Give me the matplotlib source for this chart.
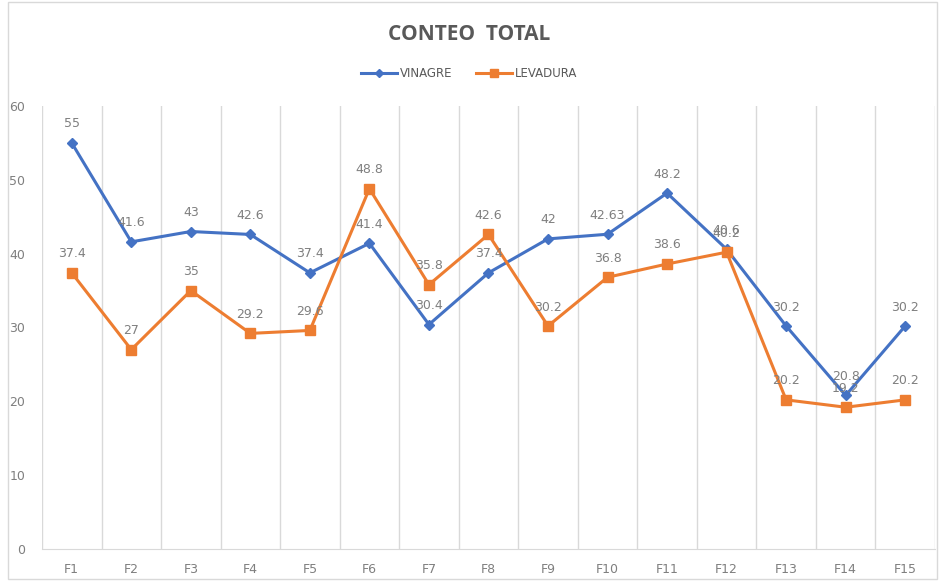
import matplotlib.pyplot as plt
from matplotlib.patches import Rectangle

categories = ["F1", "F2", "F3", "F4", "F5", "F6", "F7", "F8", "F9", "F10",
              "F11", "F12", "F13", "F14", "F15"]
vinagre = [55, 41.6, 43, 42.6, 37.4, 41.4, 30.4, 37.4, 42, 42.63,
           48.2, 40.6, 30.2, 20.8, 30.2]
levadura = [37.4, 27, 35, 29.2, 29.6, 48.8, 35.8, 42.6, 30.2, 36.8,
            38.6, 40.2, 20.2, 19.2, 20.2]
vinagre_labels = ["55", "41.6", "43", "42.6", "37.4", "41.4", "30.4", "37.4", "42", "42.63",
                  "48.2", "40.6", "30.2", "20.8", "30.2"]
levadura_labels = ["37.4", "27", "35", "29.2", "29.6", "48.8", "35.8", "42.6", "30.2", "36.8",
                   "38.6", "40.2", "20.2", "19.2", "20.2"]

blue = "#4472C4"
orange = "#ED7D31"
gray = "#7F7F7F"

fig = plt.figure(figsize=(9.39, 5.82), dpi=100)
fig.patches.append(Rectangle((0.008, 0.006), 0.99, 0.99, transform=fig.transFigure,
                             fill=False, edgecolor="#D9D9D9", linewidth=1))
ax = fig.add_axes([0.0447, 0.0567, 0.951, 0.7612])

x = list(range(len(categories)))
ax.plot(x, vinagre, color=blue, linewidth=2.2, marker="D", markersize=5,
        label="VINAGRE", zorder=3)
ax.plot(x, levadura, color=orange, linewidth=2.2, marker="s", markersize=7.5,
        label="LEVADURA", zorder=3)

# data labels above every point
for xi, v, t in zip(x, vinagre, vinagre_labels):
    ax.annotate(t, (xi, v), xytext=(0, 9), textcoords="offset points",
                ha="center", va="bottom", fontsize=9, color=gray)
for xi, v, t in zip(x, levadura, levadura_labels):
    ax.annotate(t, (xi, v), xytext=(0, 9), textcoords="offset points",
                ha="center", va="bottom", fontsize=9, color=gray)

ax.set_xlim(-0.5, len(categories) - 0.5)
ax.set_ylim(0, 60)
ax.set_yticks(range(0, 61, 10))
ax.set_xticks(x)
ax.set_xticklabels(categories)
for b in range(len(categories) + 1):
    ax.axvline(b - 0.5, color="#D9D9D9", linewidth=1, zorder=0)

for s in ["top", "right", "left"]:
    ax.spines[s].set_visible(False)
ax.spines["bottom"].set_color("#D9D9D9")
ax.tick_params(axis="both", length=0, colors=gray, labelsize=9)
ax.tick_params(axis="x", pad=10)
ax.tick_params(axis="y", pad=12)

fig.text(0.5, 0.94, "CONTEO  TOTAL", ha="center", va="center", fontsize=15,
         fontweight="bold", color="#595959", family="Open Sans")
fig.legend(loc="center", bbox_to_anchor=(0.5, 0.873), ncol=2, frameon=False,
           fontsize=8.5, labelcolor="#595959", handlelength=3, columnspacing=2,
           handletextpad=0.3, markerscale=0.8)

fig.savefig("out.png", dpi=100)
